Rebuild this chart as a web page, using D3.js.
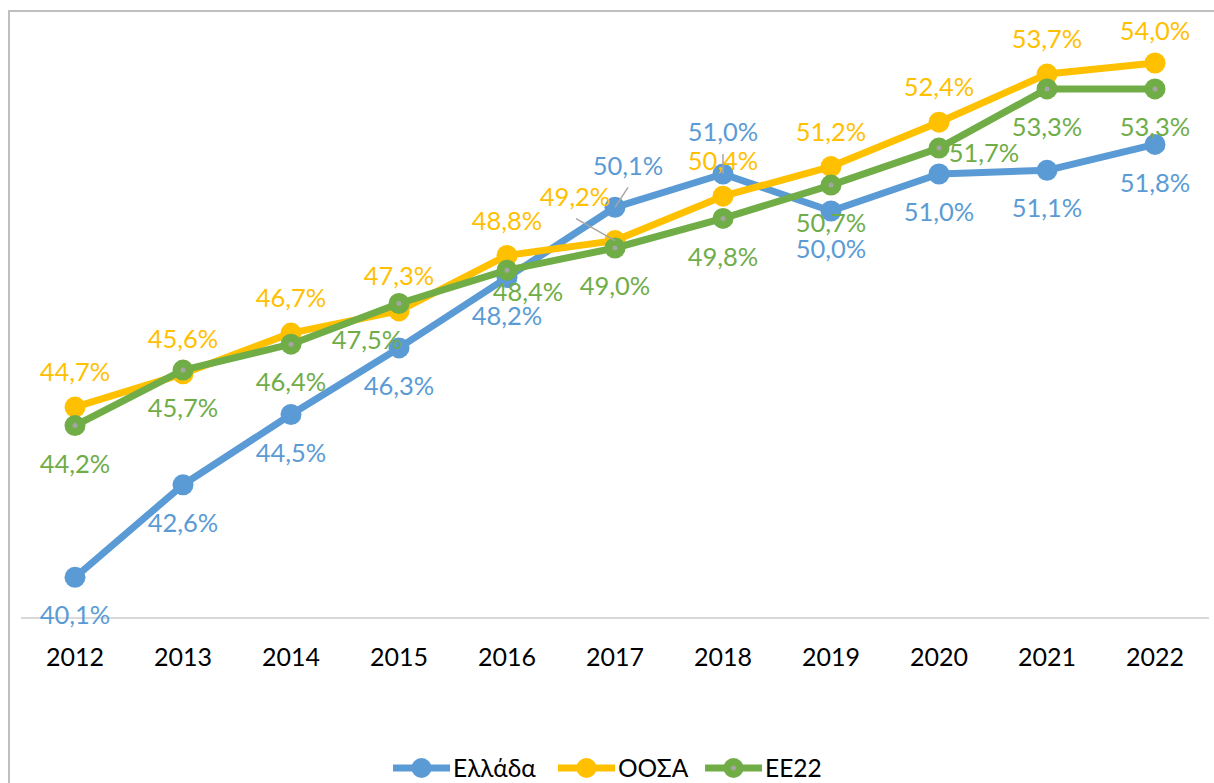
<!DOCTYPE html>
<html>
<head>
<meta charset="utf-8">
<script src="https://cdn.jsdelivr.net/npm/d3@7"></script>
<style>
html,body{margin:0;padding:0;background:#fff;}
svg{display:block;}
text{font-family:Lato,"Noto Sans",sans-serif;}
</style>
</head>
<body>
<svg id="chart" width="1214" height="783"></svg>
<script>
const years = ["2012","2013","2014","2015","2016","2017","2018","2019","2020","2021","2022"];
const seriesNames = ["Ελλάδα","ΟΟΣΑ","ΕΕ22"];
const greece = [40.1,42.6,44.5,46.3,48.2,50.1,51.0,50.0,51.0,51.1,51.8];
const oecd   = [44.7,45.6,46.7,47.3,48.8,49.2,50.4,51.2,52.4,53.7,54.0];
const eu22   = [44.2,45.7,46.4,47.5,48.4,49.0,49.8,50.7,51.7,53.3,53.3];
const colors = ["#5B9BD5","#FFC000","#70AD47"];

// label placement (relative to marker) — layout only
const A = {dx:0, dy:-35}, B = {dx:0, dy:38};
const placeGreece = [B,B,B,B,B,{dx:13,dy:-41,lead:[13,-20]},{dx:0,dy:-42,lead:[0,-20]},B,B,B,B];
const placeOecd   = [A,A,A,A,A,{dx:-40,dy:-44,lead:[-39,-22]},A,A,A,A,{dx:0,dy:-32}];
const placeEu     = [B,B,B,{dx:-32,dy:36},{dx:21,dy:22},B,B,B,{dx:45,dy:5},B,B];

const series = [
  {name:seriesNames[0], values:greece, color:colors[0], place:placeGreece, dot:false},
  {name:seriesNames[1], values:oecd,   color:colors[1], place:placeOecd,   dot:false},
  {name:seriesNames[2], values:eu22,   color:colors[2], place:placeEu,     dot:true}
];

const svg = d3.select("#chart");
const fmt = v => d3.format(".1f")(v).replace(".", ",") + "%";

// outer frame
svg.append("rect").attr("x",9).attr("y",11).attr("width",1260).attr("height",820)
  .attr("fill","none").attr("stroke","#bfbfbf").attr("stroke-width",2);

const x = d3.scaleBand().domain(years).range([21,1209]);
const y = d3.scaleLinear().domain([39,55]).range([618,26]);
const cx = d => x(d) + x.bandwidth()/2;

// baseline
svg.append("line").attr("x1",21).attr("x2",1209).attr("y1",y(39)).attr("y2",y(39))
  .attr("stroke","#d9d9d9").attr("stroke-width",2);

// x axis labels
const xAxis = d3.axisBottom(x).tickSize(0).tickPadding(0);
const gx = svg.append("g").attr("transform",`translate(0,${y(39)+39})`).call(xAxis);
gx.select(".domain").remove();
gx.selectAll("text").attr("font-size",25).attr("fill","#000")
  .style("font-family","Lato, 'Noto Sans', sans-serif").attr("dy","0.36em");

const line = d3.line().x((d,i)=>cx(years[i])).y(d=>y(d));

series.forEach(s=>{
  svg.append("path").datum(s.values).attr("d",line)
    .attr("fill","none").attr("stroke",s.color).attr("stroke-width",7)
    .attr("stroke-linejoin","round");
  svg.selectAll(null).data(s.values).enter().append("circle")
    .attr("cx",(d,i)=>cx(years[i])).attr("cy",d=>y(d)).attr("r",10.5)
    .attr("fill",s.color);
  if(s.dot){
    svg.selectAll(null).data(s.values).enter().append("circle")
      .attr("cx",(d,i)=>cx(years[i])).attr("cy",d=>y(d)).attr("r",2.5)
      .attr("fill","#a5a5a5");
  }
});

// leader lines
series.forEach(s=>{
  s.values.forEach((v,i)=>{
    const p = s.place[i];
    if(p.lead){
      const px = cx(years[i]), py = y(v);
      svg.append("line").attr("x1",px+p.lead[0]).attr("y1",py+p.lead[1])
        .attr("x2",px).attr("y2",py).attr("stroke","#a6a6a6").attr("stroke-width",1.5);
    }
  });
});

// data labels
series.forEach(s=>{
  svg.selectAll(null).data(s.values).enter().append("text")
    .attr("x",(d,i)=>cx(years[i])+s.place[i].dx)
    .attr("y",(d,i)=>y(d)+s.place[i].dy)
    .attr("dy","0.36em")
    .attr("text-anchor","middle").attr("font-size",25.5).attr("fill",s.color)
    .text(d=>fmt(d));
});

// legend
const legendItems = [
  {x:393, tx:453},
  {x:558, tx:618},
  {x:705, tx:765}
];
series.forEach((s,i)=>{
  const g = svg.append("g").attr("transform",`translate(${legendItems[i].x},768)`);
  g.append("line").attr("x1",0).attr("x2",57).attr("y1",0).attr("y2",0)
    .attr("stroke",s.color).attr("stroke-width",7);
  g.append("circle").attr("cx",28.5).attr("cy",0).attr("r",10).attr("fill",s.color);
  if(s.dot) g.append("circle").attr("cx",28.5).attr("cy",0).attr("r",2.5).attr("fill","#a5a5a5");
  svg.append("text").attr("x",legendItems[i].tx).attr("y",768).attr("dy","0.36em")
    .attr("font-size",24.5).attr("fill","#000").text(s.name);
});
</script>
</body>
</html>
